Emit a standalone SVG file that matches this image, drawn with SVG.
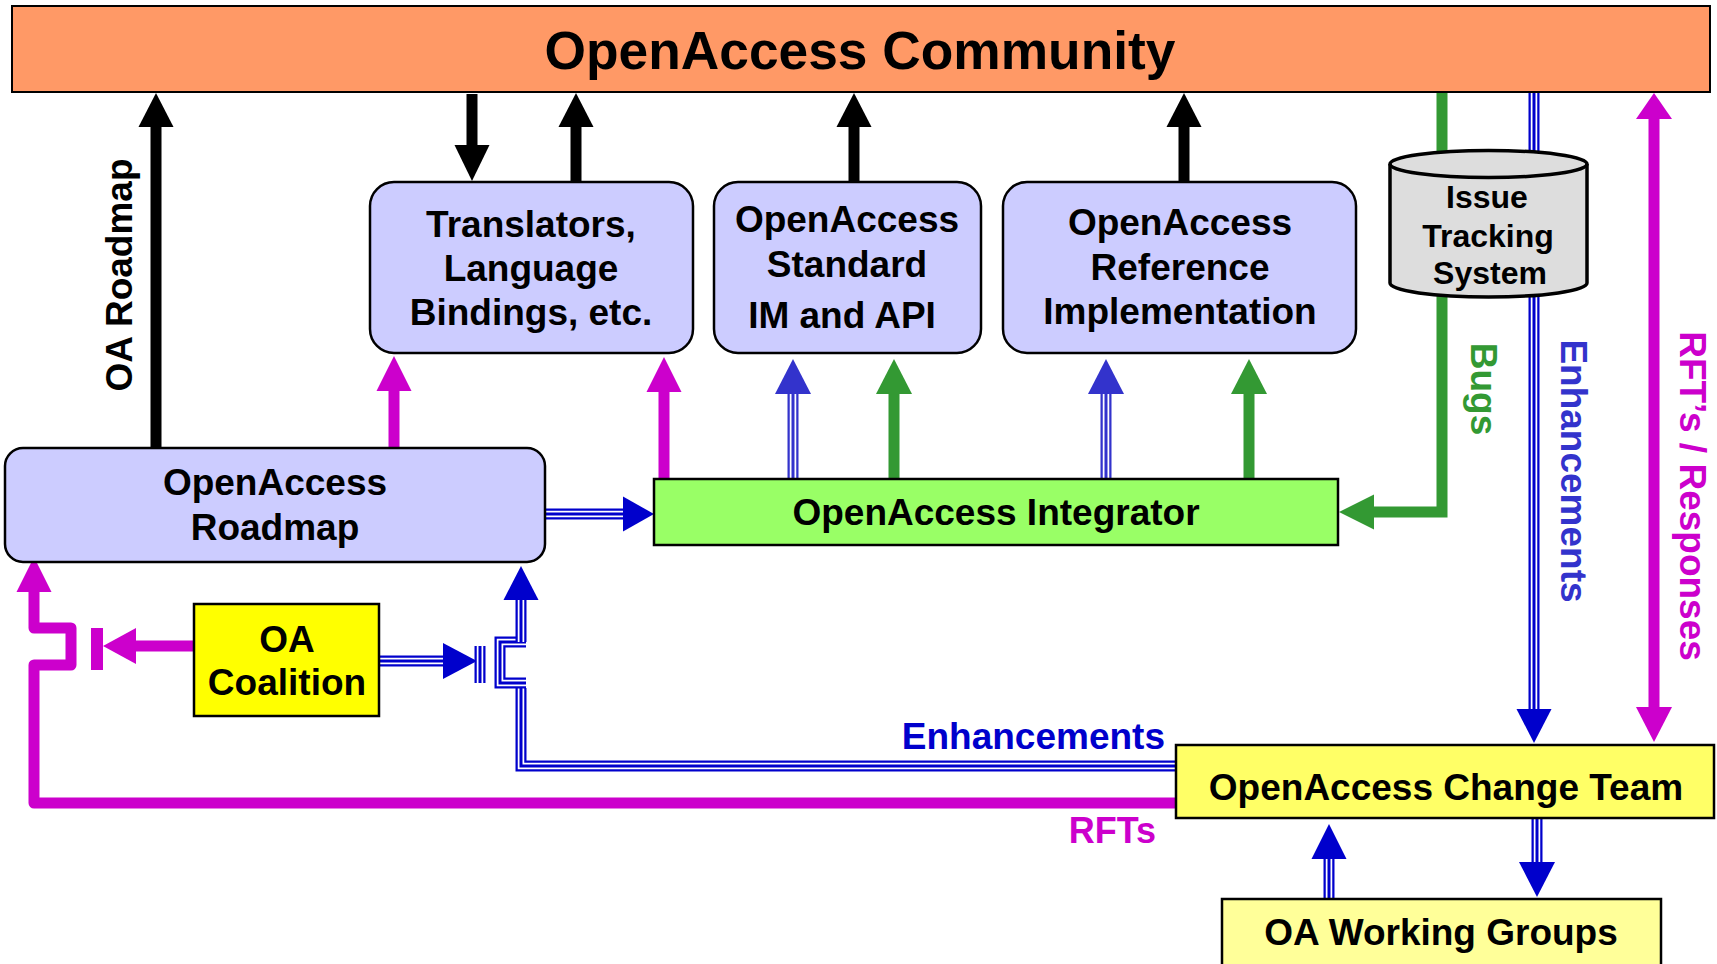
<svg xmlns="http://www.w3.org/2000/svg" xmlns:xlink="http://www.w3.org/1999/xlink" width="1717" height="964" viewBox="0 0 1717 964">
<style>
.box{stroke:#000;stroke-width:2.5}
.lav{fill:#CCCCFF}
.t{font-family:"Liberation Sans",Arial,Helvetica,sans-serif;font-weight:bold;text-anchor:middle;fill:#000;font-size:37px}
.blk{stroke:#000;stroke-width:11;fill:none}
.mag{stroke:#CC00CC;stroke-width:11;fill:none;stroke-linejoin:round}
.grn{stroke:#339933;stroke-width:11;fill:none}
.hb{fill:#000}.hm{fill:#CC00CC}.hg{fill:#339933}.hd{fill:#0000CC}.hl{fill:#3333CC}
.d1{stroke:#0000CC;stroke-width:11;fill:none}
.w{stroke:#fff;stroke-width:6.5;fill:none}
.d3{stroke:#0000CC;stroke-width:3;fill:none}
.l1{stroke:#3333CC;stroke-width:11;fill:none}
.l3{stroke:#3333CC;stroke-width:3;fill:none}
</style>
<defs>
<path id="tS1" d="M793,479 V393"/>
<path id="tS2" d="M1106,479 V393"/>
<path id="tRI" d="M545,514 H625"/>
<path id="tCO" d="M379,661 H445"/>
<path id="tBar" d="M480,646 V683"/>
<path id="tE1" d="M1176,766 H521 V688"/>
<path id="tE2" d="M526,683 H500 V642 H526"/>
<path id="tE3" d="M521,642 V598"/>
<path id="tEV" d="M1534,92 V711"/>
<path id="tCW" d="M1537,819 V864"/>
<path id="tWC" d="M1329,899 V857"/>
</defs>
<rect width="1717" height="964" fill="#fff"/>
<g id="connectors">
<line class="blk" x1="156" y1="448" x2="156" y2="125"/>
<polygon class="hb" points="156,93 138.5,127 173.5,127"/>
<line class="blk" x1="472" y1="94" x2="472" y2="147"/>
<polygon class="hb" points="472,181 454.5,145 489.5,145"/>
<line class="blk" x1="576" y1="182" x2="576" y2="125"/>
<polygon class="hb" points="576,93 558.5,127 593.5,127"/>
<line class="blk" x1="854" y1="182" x2="854" y2="125"/>
<polygon class="hb" points="854,93 836.5,127 871.5,127"/>
<line class="blk" x1="1184" y1="182" x2="1184" y2="125"/>
<polygon class="hb" points="1184,93 1166.5,127 1201.5,127"/>
<line class="mag" x1="394" y1="449" x2="394" y2="389"/>
<polygon class="hm" points="394,356 376.5,391 411.5,391"/>
<line class="mag" x1="664" y1="482" x2="664" y2="390"/>
<polygon class="hm" points="664,357 646.5,392 681.5,392"/>
<line class="grn" x1="894" y1="479" x2="894" y2="392"/>
<polygon class="hg" points="894,359 876,394 912,394"/>
<line class="grn" x1="1249" y1="479" x2="1249" y2="392"/>
<polygon class="hg" points="1249,359 1231,394 1267,394"/>
<use xlink:href="#tS1" class="l1"/><use xlink:href="#tS1" class="w"/><use xlink:href="#tS1" class="l3"/>
<polygon class="hl" points="793,359 775,394 811,394"/>
<use xlink:href="#tS2" class="l1"/><use xlink:href="#tS2" class="w"/><use xlink:href="#tS2" class="l3"/>
<polygon class="hl" points="1106,359 1088,394 1124,394"/>
<path class="grn" d="M1442,92 V512 H1372"/>
<polygon class="hg" points="1339,512 1374,494.5 1374,529.5"/>
<use xlink:href="#tEV" class="d1"/><use xlink:href="#tEV" class="w"/><use xlink:href="#tEV" class="d3"/>
<polygon class="hd" points="1534,743 1516.5,709 1551.5,709"/>
<line class="mag" x1="1654" y1="117" x2="1654" y2="709"/>
<polygon class="hm" points="1654,93 1636,119 1672,119"/>
<polygon class="hm" points="1654,742 1636,707 1672,707"/>
<use xlink:href="#tRI" class="d1"/><use xlink:href="#tRI" class="w"/><use xlink:href="#tRI" class="d3"/>
<polygon class="hd" points="654,514 623,496.5 623,531.5"/>
<use xlink:href="#tCO" class="d1"/><use xlink:href="#tCO" class="w"/><use xlink:href="#tCO" class="d3"/>
<polygon class="hd" points="477,661 443,643 443,679"/>
<use xlink:href="#tBar" class="d1"/><use xlink:href="#tBar" class="w"/><use xlink:href="#tBar" class="d3"/>
<use xlink:href="#tE1" class="d1"/><use xlink:href="#tE1" class="w"/><use xlink:href="#tE1" class="d3"/>
<use xlink:href="#tE2" class="d1"/><use xlink:href="#tE2" class="w"/><use xlink:href="#tE2" class="d3"/>
<use xlink:href="#tE3" class="d1"/><use xlink:href="#tE3" class="w"/><use xlink:href="#tE3" class="d3"/>
<polygon class="hd" points="521,566 503.5,600 538.5,600"/>
<use xlink:href="#tCW" class="d1"/><use xlink:href="#tCW" class="w"/><use xlink:href="#tCW" class="d3"/>
<polygon class="hd" points="1537,897 1519,862 1555,862"/>
<use xlink:href="#tWC" class="d1"/><use xlink:href="#tWC" class="w"/><use xlink:href="#tWC" class="d3"/>
<polygon class="hd" points="1329,824 1311.5,859 1346.5,859"/>
<path class="mag" d="M1177,803 H34 V665 H71 V628 H34 V590"/>
<polygon class="hm" points="34,557 16.5,592 51.5,592"/>
<line class="mag" x1="195" y1="646" x2="134" y2="646"/>
<polygon class="hm" points="103,646 136,628 136,664"/>
<rect class="hm" x="91" y="628" width="12" height="42"/>
<text class="t" transform="translate(132,275) rotate(-90)">OA Roadmap</text>
<text class="t" transform="translate(1471,389) rotate(90)" style="fill:#339933">Bugs</text>
<text class="t" transform="translate(1561,471) rotate(90)" style="fill:#3333CC">Enhancements</text>
<text class="t" transform="translate(1680,496) rotate(90)" style="fill:#CC00CC">RFT’s / Responses</text>
<text class="t" x="1165" y="749" style="fill:#0000CC;text-anchor:end">Enhancements</text>
<text class="t" x="1156" y="843" style="fill:#CC00CC;text-anchor:end;font-size:36px">RFTs</text>
</g>
<g id="community">
<rect class="box" x="12" y="6" width="1698" height="86" fill="#FF9966" style="stroke-width:2"/>
<text class="t" x="860" y="69" style="font-size:53.3px">OpenAccess Community</text>
</g>
<g id="translators">
<rect class="box lav" x="370" y="182" width="323" height="171" rx="24"/>
<text class="t" x="531" y="237">Translators,</text>
<text class="t" x="531" y="281">Language</text>
<text class="t" x="531" y="325">Bindings, etc.</text>
</g>
<g id="standard">
<rect class="box lav" x="714" y="182" width="267" height="171" rx="24"/>
<text class="t" x="847" y="232">OpenAccess</text>
<text class="t" x="847" y="277">Standard</text>
<text class="t" x="842" y="328">IM and API</text>
</g>
<g id="reference">
<rect class="box lav" x="1003" y="182" width="353" height="171" rx="24"/>
<text class="t" x="1180" y="235">OpenAccess</text>
<text class="t" x="1180" y="280">Reference</text>
<text class="t" x="1180" y="324">Implementation</text>
</g>
<g id="issue-tracking">
<path d="M1390,164 A98.5,13.5 0 0 1 1587,164 V283 A98.5,14 0 0 1 1390,283 Z" fill="#DDDDDD" stroke="#000" stroke-width="3.5"/>
<path d="M1390,164 A98.5,13.5 0 0 0 1587,164" fill="none" stroke="#000" stroke-width="3.5"/>
<text class="t" x="1487" y="208" style="font-size:32px">Issue</text>
<text class="t" x="1488" y="247" style="font-size:32px">Tracking</text>
<text class="t" x="1490" y="284" style="font-size:32px">System</text>
</g>
<g id="roadmap">
<rect class="box lav" x="5" y="448" width="540" height="114" rx="18"/>
<text class="t" x="275" y="495">OpenAccess</text>
<text class="t" x="275" y="540">Roadmap</text>
</g>
<g id="integrator">
<rect class="box" x="654" y="479" width="684" height="66" fill="#99FF66"/>
<text class="t" x="996" y="525">OpenAccess Integrator</text>
</g>
<g id="coalition">
<rect class="box" x="194" y="604" width="185" height="112" fill="#FFFF00"/>
<text class="t" x="287" y="652">OA</text>
<text class="t" x="287" y="695">Coalition</text>
</g>
<g id="change-team">
<rect class="box" x="1176" y="745" width="538" height="73" fill="#FFFF66"/>
<text class="t" x="1446" y="800">OpenAccess Change Team</text>
</g>
<g id="working-groups">
<rect class="box" x="1222" y="899" width="439" height="75" fill="#FFFF99"/>
<text class="t" x="1441" y="945">OA Working Groups</text>
</g>
</svg>
